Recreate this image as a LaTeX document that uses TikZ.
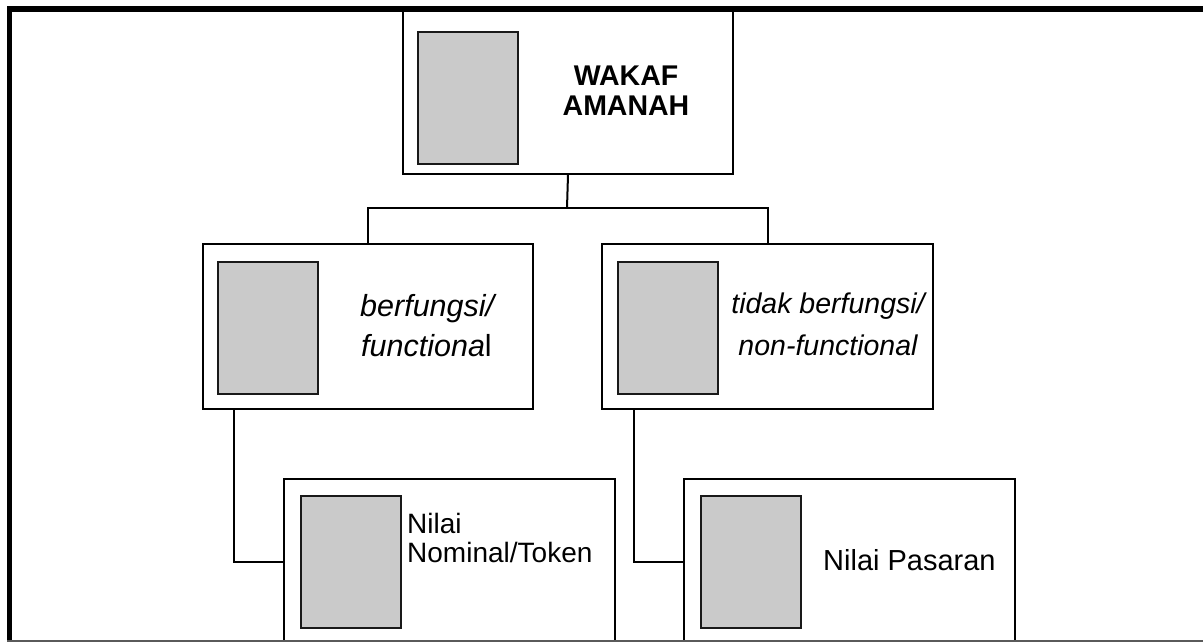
\documentclass[tikz,border=0pt]{standalone}
\usepackage{fontspec}
\setmainfont{Liberation Sans}
\definecolor{picgray}{RGB}{202,202,202}
\definecolor{rulegray}{RGB}{90,90,90}
\begin{document}
\begin{tikzpicture}[x=1pt,y=-1pt,
  box/.style={draw=black, line width=2pt, fill=white, inner sep=0pt,
              minimum width=330pt, anchor=north west},
  photo/.style={draw=black!90, line width=2.2pt, fill=picgray, inner sep=0pt,
                minimum width=100pt, minimum height=132pt, anchor=north west},
  link/.style={draw=black, line width=2pt},
  lbl/.style={inner sep=0pt, text=black},
  big/.style={font=\fontsize{28}{30}\selectfont}
]
\useasboundingbox (0,0) rectangle (1203,642);

% boxes of the hierarchy
\node[box, minimum height=164pt] (top) at (402,9) {};
\node[box, minimum height=165pt] (ml) at (202,243) {};
\node[box, minimum height=165pt, minimum width=331pt] (mr) at (601,243) {};
\node[box, minimum height=166pt, minimum width=331pt] (bl) at (283,478) {};
\node[box, minimum height=166pt, minimum width=331pt] (br) at (683,478) {};

% picture placeholders
\node[photo] (ptop) at (417,31) {};
\node[photo] (pml) at (217,261) {};
\node[photo] (pmr) at (617,261) {};
\node[photo] (pbl) at (300,495) {};
\node[photo] (pbr) at (700,495) {};

% connectors
\coordinate (split) at (567,208);
\draw[link] (top.south) -- (split);
\draw[link] (ml.north) |- (split);
\draw[link] (mr.north) |- (split);
\draw[link] ([xshift=32pt]ml.south west) |- (bl.west);
\draw[link] ([xshift=33pt]mr.south west) |- (br.west);

% labels
\node[lbl, big, font=\fontsize{28.5}{30}\selectfont\bfseries, anchor=base] (t1) at (626,85) {WAKAF};
\node[lbl, big, font=\fontsize{28.5}{30}\selectfont\bfseries, anchor=base] (t2) at (626,115) {AMANAH};

\node[lbl, font=\fontsize{30.5}{32}\selectfont\itshape, anchor=base west] (ml1) at (360,316) {berfungsi/};
\node[lbl, font=\fontsize{30.5}{32}\selectfont, anchor=base west] (ml2) at (361,356) {\textit{functiona}l};

\node[lbl, font=\fontsize{28.5}{30}\selectfont\itshape, anchor=base] (mr1) at (828,313) {tidak berfungsi/};
\node[lbl, font=\fontsize{28.5}{30}\selectfont\itshape, anchor=base] (mr2) at (828,355) {non-functional};

\node[lbl, big, anchor=base west] (bl1) at (407,533) {Nilai};
\node[lbl, big, anchor=base west] (bl2) at (407,562) {Nominal/Token};

\node[lbl, font=\fontsize{29}{31}\selectfont, anchor=base west] (br1) at (823,570) {Nilai Pasaran};

% outer frame
\draw[line width=5.5pt, line join=miter] (9.5,650) -- (9.5,9) -- (1215,9);
\draw[line width=2pt, draw=rulegray] (7,640.5) -- (1215,640.5);
\end{tikzpicture}
\end{document}
